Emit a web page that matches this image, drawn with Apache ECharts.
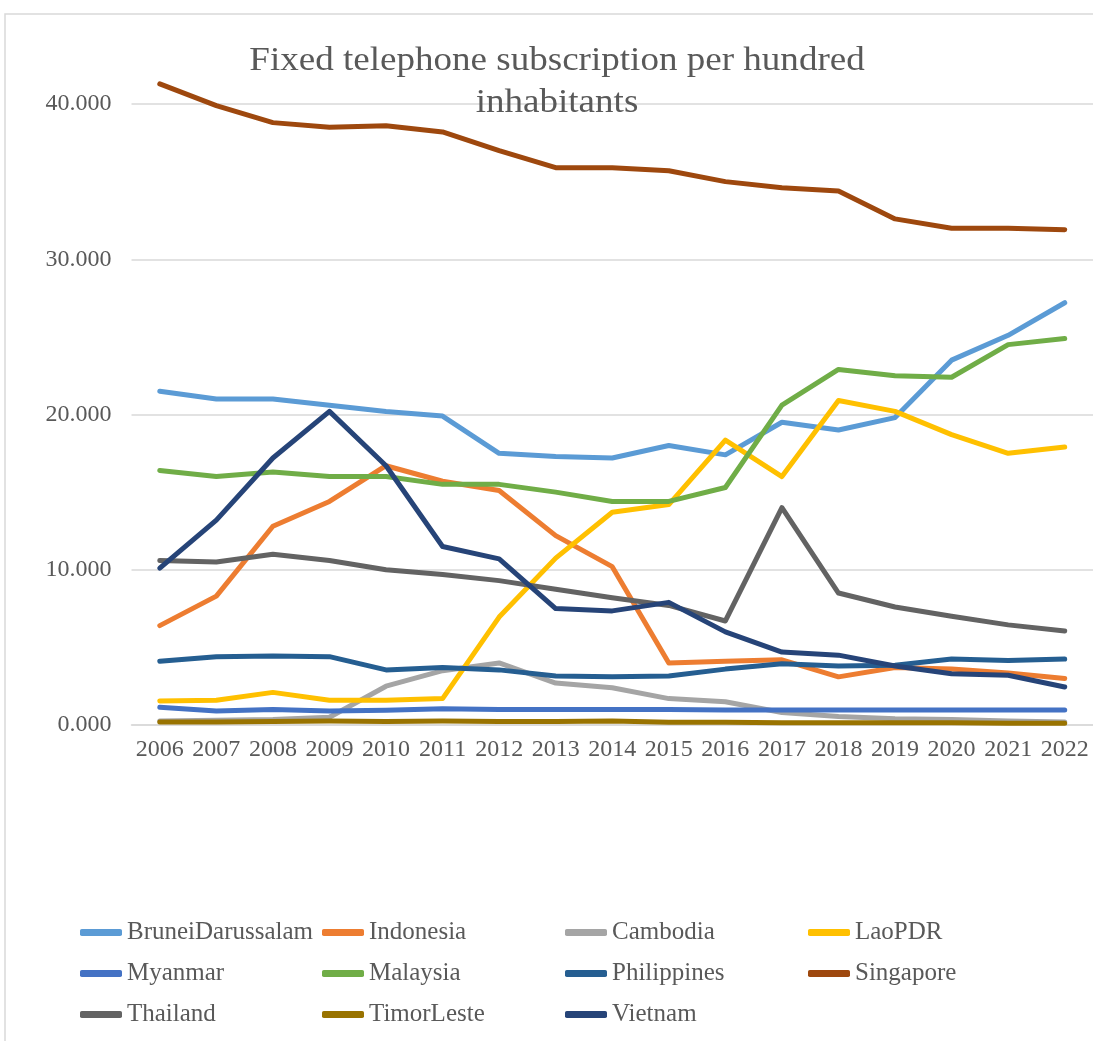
<!DOCTYPE html>
<html>
<head>
<meta charset="utf-8">
<script src="https://cdn.jsdelivr.net/npm/echarts@6/dist/echarts.min.js"></script>
<style>
    html, body { margin: 0; padding: 0; background: #fff; }
    #chart { width: 1093px; height: 1041px; }
</style>
</head>
<body>
<div id="chart"></div>
<script>
    var years = ['2006', '2007', '2008', '2009', '2010', '2011', '2012', '2013', '2014',
        '2015', '2016', '2017', '2018', '2019', '2020', '2021', '2022'];

    var brunei = [21.5, 21.0, 21.0, 20.6, 20.2, 19.9, 17.5, 17.3, 17.2, 18.0, 17.4, 19.5, 19.0, 19.8, 23.5, 25.1, 27.2];
    var indonesia = [6.4, 8.3, 12.8, 14.4, 16.7, 15.7, 15.1, 12.2, 10.2, 4.0, 4.1, 4.2, 3.1, 3.7, 3.6, 3.35, 3.0];
    var cambodia = [0.25, 0.3, 0.35, 0.5, 2.5, 3.5, 4.0, 2.7, 2.4, 1.7, 1.5, 0.8, 0.55, 0.4, 0.35, 0.25, 0.2];
    var laoPDR = [1.55, 1.6, 2.1, 1.6, 1.6, 1.7, 6.95, 10.75, 13.7, 14.2, 18.35, 16.0, 20.9, 20.2, 18.7, 17.5, 17.9];
    var myanmar = [1.15, 0.9, 1.0, 0.9, 0.95, 1.05, 1.0, 1.0, 1.0, 1.0, 0.97, 0.97, 0.97, 0.97, 0.97, 0.97, 0.97];
    var malaysia = [16.4, 16.0, 16.3, 16.0, 16.0, 15.5, 15.5, 15.0, 14.4, 14.4, 15.3, 20.6, 22.9, 22.5, 22.4, 24.5, 24.9];
    var philippines = [4.1, 4.4, 4.45, 4.4, 3.55, 3.7, 3.55, 3.15, 3.1, 3.15, 3.6, 3.95, 3.8, 3.85, 4.25, 4.15, 4.25];
    var singapore = [41.3, 39.9, 38.8, 38.5, 38.6, 38.2, 37.0, 35.9, 35.9, 35.7, 35.0, 34.6, 34.4, 32.6, 32.0, 32.0, 31.9];
    var thailand = [10.6, 10.5, 11.0, 10.6, 10.0, 9.7, 9.3, 8.75, 8.2, 7.7, 6.7, 14.0, 8.5, 7.6, 7.0, 6.45, 6.05];
    var timorLeste = [0.2, 0.2, 0.22, 0.25, 0.22, 0.25, 0.22, 0.22, 0.25, 0.18, 0.17, 0.15, 0.15, 0.15, 0.15, 0.12, 0.12];
    var vietnam = [10.1, 13.2, 17.2, 20.2, 16.7, 11.5, 10.7, 7.5, 7.35, 7.9, 6.0, 4.7, 4.5, 3.8, 3.3, 3.2, 2.45];

    var names = ['BruneiDarussalam', 'Indonesia', 'Cambodia', 'LaoPDR', 'Myanmar', 'Malaysia',
        'Philippines', 'Singapore', 'Thailand', 'TimorLeste', 'Vietnam'];
    var values = [brunei, indonesia, cambodia, laoPDR, myanmar, malaysia,
        philippines, singapore, thailand, timorLeste, vietnam];
    var colors = ['#5B9BD5', '#ED7D31', '#A5A5A5', '#FFC000', '#4472C4', '#70AD47',
        '#255E91', '#9E480E', '#636363', '#997300', '#264478'];

    var textColor = '#595959';
    var font = '"Liberation Serif", "Times New Roman", serif';

    var myChart = echarts.init(document.getElementById('chart'));

    var series = [];
    for (var i = 0; i < names.length; i++) {
        series.push({
            name: names[i],
            type: 'line',
            data: values[i],
            symbol: 'none',
            clip: false,
            lineStyle: {width: 5, color: colors[i], cap: 'round', join: 'round'},
            itemStyle: {color: colors[i]}
        });
    }

    // legend: 4 columns, filled row by row
    var legends = [];
    var colLeft = [80, 322, 565, 808];
    for (var c = 0; c < 4; c++) {
        var items = [];
        for (var k = c; k < names.length; k += 4) items.push(names[k]);
        legends.push({
            data: items,
            orient: 'vertical',
            left: colLeft[c],
            top: 920,
            padding: 0,
            icon: 'roundRect',
            itemWidth: 42,
            itemHeight: 7,
            itemGap: 16,
            selectedMode: false,
            textStyle: {color: textColor, fontFamily: font, fontSize: 25, lineHeight: 25}
        });
    }

    option = {
        backgroundColor: '#fff',
        animation: false,
        color: colors,
        graphic: [
            {
                type: 'rect',
                z: -10,
                shape: {x: 5, y: 14, width: 1200, height: 1100},
                style: {fill: 'none', stroke: '#D9D9D9', lineWidth: 1.5}
            },
            {
                type: 'text',
                x: 557,
                y: 40,
                scaleX: 1.09,
                z: 10,
                style: {
                    text: 'Fixed telephone subscription per hundred\ninhabitants',
                    textAlign: 'center',
                    fill: textColor,
                    fontFamily: font,
                    fontSize: 34,
                    lineHeight: 42
                }
            }
        ],
        legend: legends,
        grid: {left: 131.5, top: 104, width: 964, height: 621, containLabel: false},
        xAxis: {
            type: 'category',
            data: years,
            boundaryGap: true,
            axisLine: {lineStyle: {color: '#D9D9D9', width: 1.5}},
            axisTick: {show: false},
            axisLabel: {color: textColor, fontFamily: font, fontSize: 24, margin: 13, interval: 0, hideOverlap: false}
        },
        yAxis: {
            type: 'value',
            min: 0,
            max: 40,
            interval: 10,
            axisLine: {show: false},
            axisTick: {show: false},
            splitLine: {lineStyle: {color: '#D9D9D9', width: 1.5}},
            axisLabel: {
                color: textColor, fontFamily: font, fontSize: 24, margin: 20,
                formatter: function (v) { return v.toFixed(3); }
            }
        },
        series: series
    };
    myChart.setOption(option);
</script>
</body>
</html>
